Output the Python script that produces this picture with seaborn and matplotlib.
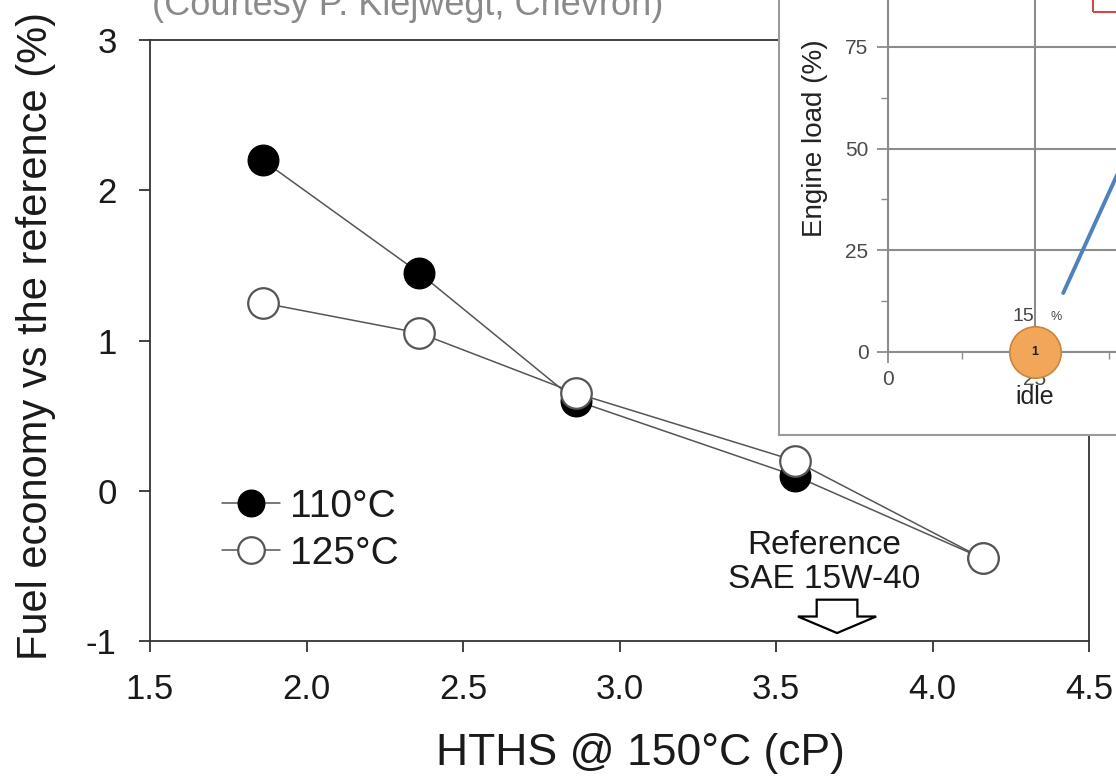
import matplotlib
matplotlib.use("Agg")
import matplotlib.pyplot as plt
import seaborn as sns
import pandas as pd
from matplotlib.patches import FancyArrow, Rectangle

# ---------------- data ----------------
hths = [1.86, 2.36, 2.86, 3.56, 4.16]
fe_110 = [2.20, 1.45, 0.60, 0.10, -0.45]
fe_125 = [1.25, 1.05, 0.65, 0.20, -0.45]
series_labels = ["110°C", "125°C"]
x_ticks = [1.5, 2.0, 2.5, 3.0, 3.5, 4.0, 4.5]
y_ticks = [-1, 0, 1, 2, 3]

# inset (partial engine-map chart in the corner)
inset_yticks = [0, 25, 50, 75]
inset_xticks = [0, 25]
inset_point = (25, 0)
inset_line_x = [29.8, 45.0]
inset_line_y = [14.5, 62.7]

sns.set_theme(style="white")
plt.rcParams["font.family"] = ["Liberation Sans", "DejaVu Sans"]

W, H = 1116, 776
fig = plt.figure(figsize=(W / 100, H / 100), dpi=100)
fig.patch.set_facecolor("white")

def fx(px):
    return px / W

def fy(py):
    return 1 - py / H

ax = fig.add_axes([fx(150), fy(641), fx(1089) - fx(150), fy(40) - fy(641)])
ax.set_facecolor("white")

df = pd.DataFrame({"HTHS": hths * 2, "FE": fe_110 + fe_125,
                   "Temp": [series_labels[0]] * 5 + [series_labels[1]] * 5})

sns.lineplot(data=df[df.Temp == series_labels[0]], x="HTHS", y="FE", ax=ax,
             color="#555555", lw=1.1, marker="o", markersize=22,
             markerfacecolor="black", markeredgecolor="black", markeredgewidth=1.0,
             label=series_labels[0], zorder=3)
sns.lineplot(data=df[df.Temp == series_labels[1]], x="HTHS", y="FE", ax=ax,
             color="#555555", lw=1.1, marker="o", markersize=22,
             markerfacecolor="white", markeredgecolor="#555555", markeredgewidth=1.6,
             label=series_labels[1], zorder=4)

ax.set_xlim(1.5, 4.5)
ax.set_ylim(-1, 3)
ax.set_xticks(x_ticks)
ax.set_xticklabels([f"{t:.1f}" for t in x_ticks])
ax.set_yticks(y_ticks)
ax.set_yticklabels([str(t) for t in y_ticks])
for s in ax.spines.values():
    s.set_color("#333333")
    s.set_linewidth(1.3)
ax.tick_params(axis="both", direction="out", length=8, width=1.3, color="#333333",
               labelsize=25, labelcolor="#1a1a1a", bottom=True, left=True)
ax.tick_params(axis="x", pad=15)
ax.tick_params(axis="y", pad=16)

ax.set_xlabel("HTHS @ 150°C (cP)", fontsize=32, color="#1a1a1a")
ax.xaxis.label.set_va("baseline")
ax.xaxis.set_label_coords((640 - 150) / 939, (641 - 765) / 601)
ax.set_ylabel("Fuel economy vs the reference (%)", fontsize=30, color="#1a1a1a")
ax.yaxis.label.set_va("center")
ax.yaxis.set_label_coords((36 - 150) / 939, (641 - 336) / 601)

leg = ax.legend(loc="upper left", bbox_to_anchor=((222 - 150) / 939, (641 - 489) / 601),
                frameon=False, fontsize=28, handlelength=1.5, handletextpad=0.25,
                labelspacing=0.27, borderpad=0, borderaxespad=0, markerscale=0.87)
for t in leg.get_texts():
    t.set_color("#1a1a1a")

# reference annotation
ax.text(3.654, -0.42, "Reference", ha="center", va="baseline", fontsize=24,
        color="#1a1a1a")
ax.text(3.654, -0.647, "SAE 15W-40", ha="center", va="baseline", fontsize=24,
        color="#1a1a1a")
ax.add_patch(FancyArrow(3.695, -0.725, 0, -0.222, width=0.13, head_width=0.25,
                        head_length=0.11, length_includes_head=True,
                        facecolor="white", edgecolor="black", lw=1.6, zorder=5))

fig.text(fx(152), fy(15), "(Courtesy P. Kiejwegt, Chevron)", fontsize=26,
         color="#8a8a8a", ha="left", va="baseline")

# ---------------- inset panel ----------------
panel = fig.add_axes([fx(779), fy(435), 1.0, 0.7])
panel.set_facecolor("white")
panel.set_xticks([])
panel.set_yticks([])
for s in panel.spines.values():
    s.set_color("#9a9a9a")
    s.set_linewidth(1.5)

iax = fig.add_axes([fx(888), fy(352), 588 / W, 406.8 / H])
iax.set_facecolor("none")
iax.set_xlim(0, 100)
iax.set_ylim(0, 100)
iax.set_xticks(inset_xticks)
iax.set_yticks(inset_yticks)
iax.set_xticks([12.5, 37.5], minor=True)
iax.set_yticks([12.5, 37.5, 62.5], minor=True)
iax.grid(True, which="major", color="#8c8c8c", lw=1.5)
for k in ["top", "right"]:
    iax.spines[k].set_visible(False)
for k in ["left", "bottom"]:
    iax.spines[k].set_color("#8c8c8c")
    iax.spines[k].set_linewidth(1.5)
iax.tick_params(axis="both", which="major", direction="out", length=8, width=1.3,
                color="#8c8c8c", labelsize=15, labelcolor="#4a4a4a", left=True, bottom=True)
iax.tick_params(axis="both", which="minor", direction="out", length=5, width=1.0,
                color="#8c8c8c", left=True, bottom=True)
iax.tick_params(axis="y", pad=6)
iax.tick_params(axis="x", pad=5)
iax.set_ylabel("Engine load (%)", fontsize=20, color="#222222")
iax.yaxis.label.set_va("center")
iax.yaxis.set_label_coords((815 - 888) / 588, (352 - 138) / 406.8)

sns.lineplot(x=inset_line_x, y=inset_line_y, ax=iax, color="#4f81bd", lw=2.8)
iax.plot([inset_point[0]], [inset_point[1]], marker="o", markersize=37,
         markerfacecolor="#f2a65a", markeredgecolor="#c9853f", markeredgewidth=1.2,
         clip_on=False, zorder=6, ls="none")
iax.text(inset_point[0], inset_point[1], "1", ha="center", va="center",
         fontsize=9, fontweight="bold", color="#222222", zorder=7, clip_on=False)
iax.text(23.0, 8.8, "15", ha="center", va="center", fontsize=14, color="#444444",
         zorder=7, clip_on=False)
iax.text(28.6, 8.6, "%", ha="center", va="center", fontsize=9, color="#444444",
         zorder=7, clip_on=False)
iax.text(inset_point[0], -11, "idle", ha="center", va="center", fontsize=18,
         color="#222222", zorder=7, clip_on=False)

fig.add_artist(Rectangle((fx(1093), fy(12)), 0.2, 0.2, transform=fig.transFigure,
                         fill=False, edgecolor="#d04a4a", lw=1.5, zorder=10))

fig.savefig("out.png", dpi=100)
